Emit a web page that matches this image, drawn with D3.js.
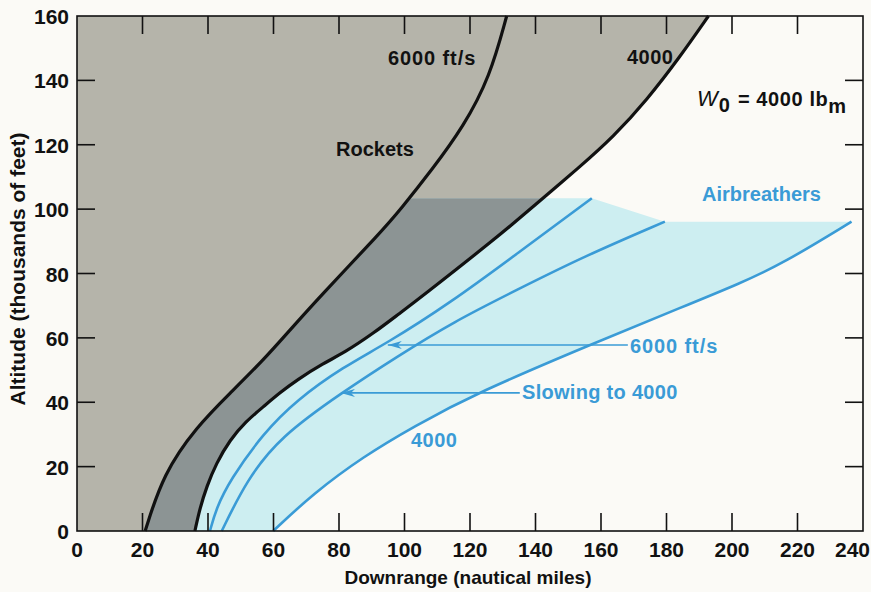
<!DOCTYPE html>
<html>
<head>
<meta charset="utf-8">
<script src="https://cdn.jsdelivr.net/npm/d3@7"></script>
<style>
  html, body { margin: 0; padding: 0; background: #fbfaf6; }
  svg { display: block; }
  text { font-family: "Liberation Sans", Arial, sans-serif; font-weight: bold; }
</style>
</head>
<body>
<div id="chart"></div>
<script>
// downrange (nmi), altitude (kft)
const rocket6000 = [[20.8,0],[26.4,17.9],[36.5,32.4],[46.7,42.8],[56.9,53.1],[65,62.4],[73.2,71.8],[93.4,93.5],[98.6,99.7],[108.3,112.1],[118,125.6],[126.1,141.1],[131.2,160]];
const rocket4000 = [[36,0],[37.5,7],[39.6,13.8],[42.5,21],[46.7,28.3],[51.5,34],[56.9,38.6],[62,43],[67.1,46.9],[75.2,52.1],[81.3,55.2],[90.5,61.4],[98.6,67.7],[104,71.8],[129.2,92],[139.2,100.7],[153.6,113.2],[163.8,122.5],[174,133.9],[184.1,147.3],[192.8,160]];
const air6000 = [[40.6,0],[42.5,7],[46.7,15.8],[56.9,30.4],[67.1,40.7],[81.3,51],[94.6,58.3],[114,70.9],[134.3,86.1],[157.2,103.4]];
const airSlowing = [[44.2,0],[51.8,15.8],[62,29.3],[81.3,43.3],[97.6,54.1],[115,65],[134.3,74.9],[154.6,85.2],[179.5,96.1]];
const air4000 = [[59.9,0],[72.2,11.7],[87.4,23.1],[102.7,32.4],[122,42.9],[157.7,58.3],[185.1,69.7],[202.4,76.9],[215.7,83.2],[236.5,96.1]];
const airCeiling = 103.4;

const xTicks = [0,20,40,60,80,100,120,140,160,180,200,220,240];
const yTicks = [0,20,40,60,80,100,120,140,160];

const W = 871, H = 592;
const blue = '#3a9bd6';
const x = d3.scaleLinear().domain([0, 240]).range([77, 863]);
const y = d3.scaleLinear().domain([0, 160]).range([531, 16]);

const svg = d3.select('#chart').append('svg').attr('width', W).attr('height', H);
const defs = svg.append('defs');

const line = d3.line().x(d => x(d[0])).y(d => y(d[1])).curve(d3.curveBasis);

// clip: everything right of the 6000 ft/s rocket curve
defs.append('clipPath').attr('id', 'rightOfLeft')
  .append('path')
  .attr('d', line(rocket6000) + `L${x(240)},${y(160)}L${x(240)},${y(0)}Z`);

defs.append('clipPath').attr('id', 'belowCeiling')
  .append('rect')
  .attr('x', x(0)).attr('y', y(airCeiling))
  .attr('width', x(240) - x(0)).attr('height', y(0) - y(airCeiling));

defs.append('marker').attr('id', 'arrow')
  .attr('viewBox', '0 0 14 8').attr('refX', 14).attr('refY', 4)
  .attr('markerWidth', 14).attr('markerHeight', 8)
  .attr('markerUnits', 'userSpaceOnUse')
  .attr('orient', 'auto')
  .append('path').attr('d', 'M14,4L0,0L4,4L0,8Z').attr('fill', blue);

// rocket region (left of 4000 ft/s curve)
const grayD = line(rocket4000) + `L${x(0)},${y(160)}L${x(0)},${y(0)}Z`;
svg.append('path').attr('d', grayD).attr('fill', '#b5b4aa');

// airbreather region
const ceilPts = [[0, 0], [0, airCeiling], [air6000[air6000.length - 1][0], airCeiling], airSlowing[airSlowing.length - 1]];
const airD = line(air4000.slice().reverse()) +
  ceilPts.map(p => `L${x(p[0])},${y(p[1])}`).join('') + 'Z';
svg.append('path')
  .attr('d', airD)
  .attr('fill', '#cdeef1')
  .attr('clip-path', 'url(#rightOfLeft)');

// overlap
svg.append('g').attr('clip-path', 'url(#rightOfLeft)')
  .append('path').attr('d', grayD)
  .attr('fill', '#8c9494')
  .attr('clip-path', 'url(#belowCeiling)');

// blue lines
[air6000, airSlowing, air4000].forEach(s => {
  svg.append('path').attr('d', line(s))
    .attr('fill', 'none').attr('stroke', blue).attr('stroke-width', 2.6);
});

// black rocket curves
[rocket6000, rocket4000].forEach(s => {
  svg.append('path').attr('d', line(s))
    .attr('fill', 'none').attr('stroke', '#111').attr('stroke-width', 3.2);
});

// frame and ticks
svg.append('rect').attr('x', x(0)).attr('y', y(160))
  .attr('width', x(240) - x(0)).attr('height', y(0) - y(160))
  .attr('fill', 'none').attr('stroke', '#111').attr('stroke-width', 1.6);

const tk = 18;
const inner = xTicks.slice(1, -1);
const innerY = yTicks.slice(1, -1);
const tg = svg.append('g').attr('stroke', '#111').attr('stroke-width', 1.6);
inner.forEach(v => {
  tg.append('line').attr('x1', x(v)).attr('x2', x(v)).attr('y1', y(0)).attr('y2', y(0) - tk);
  tg.append('line').attr('x1', x(v)).attr('x2', x(v)).attr('y1', y(160)).attr('y2', y(160) + tk);
});
innerY.forEach(v => {
  tg.append('line').attr('x1', x(0)).attr('x2', x(0) + tk).attr('y1', y(v)).attr('y2', y(v));
  tg.append('line').attr('x1', x(240)).attr('x2', x(240) - tk).attr('y1', y(v)).attr('y2', y(v));
});

svg.append('g').selectAll('text').data(xTicks).join('text')
  .attr('x', d => d === 240 ? 870 : x(d)).attr('y', 557)
  .attr('text-anchor', d => d === 240 ? 'end' : 'middle')
  .attr('font-size', 21).attr('fill', '#111')
  .text(d => d);
svg.append('g').selectAll('text').data(yTicks).join('text')
  .attr('x', 69).attr('y', d => y(d) + 8)
  .attr('text-anchor', 'end').attr('font-size', 21).attr('fill', '#111')
  .text(d => d);

svg.append('text').attr('x', 468).attr('y', 584).attr('text-anchor', 'middle')
  .attr('font-size', 19).attr('fill', '#111').text('Downrange (nautical miles)');
svg.append('text').attr('transform', 'translate(25,269) rotate(-90)').attr('text-anchor', 'middle')
  .attr('font-size', 21).attr('fill', '#111').text('Altitude (thousands of feet)');

// annotations
const ann = (t, px, py, col, ls) => svg.append('text')
  .attr('x', px).attr('y', py).attr('font-size', 20)
  .attr('letter-spacing', ls || 0)
  .attr('fill', col).text(t);

ann('6000 ft/s', 388, 65, '#111', 0.9);
ann('4000', 627, 64, '#111', 0.5);
ann('Rockets', 336, 156, '#111', 0);
ann('Airbreathers', 702, 201, blue, 0);
ann('6000 ft/s', 630, 353, blue, 0.9);
ann('Slowing to 4000', 522, 399, blue, 0.3);
ann('4000', 411, 447, blue, 0.5);

const w0 = svg.append('text').attr('x', 697).attr('y', 106).attr('font-size', 20).attr('fill', '#111');
w0.append('tspan').attr('font-style', 'italic').attr('font-weight', 'normal').attr('font-size', 22).text('W');
w0.append('tspan').attr('dy', 6).attr('dx', 1).text('0');
w0.append('tspan').attr('dy', -6).attr('dx', 8).attr('letter-spacing', 0.6).text('=  4000 lb');
w0.append('tspan').attr('dy', 7).text('m');

// arrows from the labels to the airbreather curves
const arrows = [[57.8, 94.6, 168.2], [42.9, 80.3, 135.2]];
arrows.forEach(a => {
  svg.append('line')
    .attr('x1', x(a[2])).attr('x2', x(a[1]) + 1)
    .attr('y1', y(a[0])).attr('y2', y(a[0]))
    .attr('stroke', blue).attr('stroke-width', 1.6)
    .attr('marker-end', 'url(#arrow)');
});
</script>
</body>
</html>
